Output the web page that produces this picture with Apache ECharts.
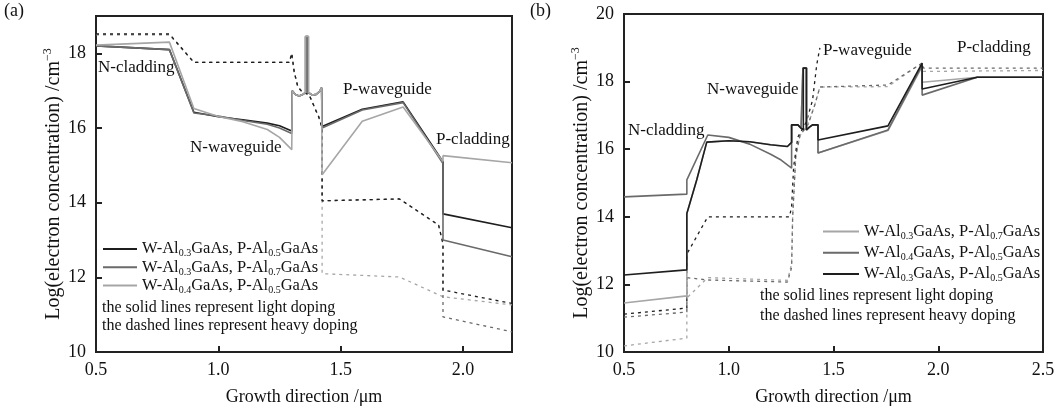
<!DOCTYPE html>
<html><head><meta charset="utf-8">
<script src="https://cdn.jsdelivr.net/npm/echarts@6/dist/echarts.min.js"></script>
<style>html,body{margin:0;padding:0;background:#fff}#c{width:1058px;height:406px}</style>
</head><body><div id="c"></div>
<script>
// ---------- data ----------
const FONT = '"Liberation Serif", "Times New Roman", serif';
const xTicksA = [0.5, 1.0, 1.5, 2.0];
const xTicksB = [0.5, 1.0, 1.5, 2.0, 2.5];
const yTicksA = [10, 12, 14, 16, 18];
const yTicksB = [10, 12, 14, 16, 18, 20];

// Panel (a) solid lines (light doping)
const aSolidBlack = [[0.5,18.2],[0.8,18.1],[0.9,16.42],[1.0,16.3],[1.1,16.22],[1.2,16.13],[1.25,16.06],[1.3,15.92],
  [1.302,15.92],[1.302,17.0],[1.315,16.9],[1.33,16.86],[1.345,16.9],[1.357,16.95],[1.357,18.45],[1.367,18.45],[1.367,16.95],[1.385,16.88],[1.40,16.9],[1.414,16.98],[1.422,17.08],
  [1.424,16.04],[1.588,16.5],[1.755,16.7],[1.918,15.1],[1.918,13.7],[2.2,13.33]];
const aSolidDark = [[0.5,18.2],[0.8,18.1],[0.9,16.4],[1.0,16.32],[1.1,16.2],[1.2,16.1],[1.25,16.0],[1.3,15.85],
  [1.302,15.85],[1.302,17.0],[1.315,16.9],[1.33,16.86],[1.345,16.9],[1.357,16.95],[1.357,18.45],[1.367,18.45],[1.367,16.95],[1.385,16.88],[1.40,16.9],[1.414,16.98],[1.422,17.08],
  [1.424,16.0],[1.588,16.48],[1.755,16.68],[1.918,15.05],[1.918,13.0],[2.2,12.55]];
const aSolidLight = [[0.5,18.22],[0.8,18.3],[0.9,16.52],[1.0,16.31],[1.1,16.17],[1.2,15.96],[1.25,15.75],[1.3,15.42],
  [1.302,15.42],[1.302,17.0],[1.315,16.9],[1.33,16.86],[1.345,16.9],[1.355,16.95],[1.355,18.45],[1.369,18.45],[1.369,16.95],[1.385,16.88],[1.40,16.9],[1.414,16.98],[1.422,17.08],
  [1.424,14.75],[1.588,16.18],[1.755,16.56],[1.918,15.1],[1.918,15.26],[2.2,15.07]];

// Panel (a) dashed lines (heavy doping)
const aDashBlack = [[0.5,18.52],[0.8,18.52],[0.9,17.76],[1.29,17.76],[1.30,18.0],[1.31,17.5],[1.325,17.1],[1.345,16.95],[1.37,16.9],[1.39,16.6],[1.41,16.3],[1.424,16.0],
  [1.424,14.05],[1.74,14.1],[1.9,13.4],[1.918,12.9],[1.918,11.66],[2.2,11.3]];
const aDashDark = [[0.5,18.5],[0.8,18.5],[0.9,17.76],[1.29,17.76],[1.30,18.0],[1.31,17.5],[1.325,17.1],[1.345,16.95],[1.37,16.9],[1.39,16.6],[1.41,16.3],[1.424,16.0],
  [1.424,14.05],[1.74,14.1],[1.9,13.4],[1.918,12.9],[1.918,10.94],[2.2,10.54]];
const aDashLight = [[0.5,18.5],[0.8,18.5],[0.9,17.76],[1.29,17.76],[1.30,18.0],[1.31,17.5],[1.325,17.1],[1.345,16.95],[1.37,16.9],[1.39,16.6],[1.41,16.3],[1.424,16.0],
  [1.424,12.1],[1.45,12.09],[1.74,12.01],[1.918,11.48],[2.2,11.26]];

// Panel (b) solid lines
const bSolidLight = [[0.5,11.45],[0.8,11.66],[0.8,14.1],[0.847,15.09],[0.895,16.21],[1.0,16.25],[1.1,16.22],[1.2,16.13],[1.28,16.08],[1.3,16.2],
  [1.3,16.72],[1.33,16.72],[1.345,16.62],[1.354,16.57],[1.354,18.4],[1.372,18.4],[1.372,16.57],[1.385,16.65],[1.40,16.72],[1.426,16.72],
  [1.426,15.89],[1.76,16.55],[1.923,18.45],[1.923,17.98],[2.186,18.13],[2.5,18.13]];
const bSolidMid = [[0.5,14.59],[0.8,14.67],[0.8,15.09],[0.9,16.42],[1.0,16.35],[1.1,16.15],[1.2,15.85],[1.25,15.68],[1.3,15.44],
  [1.3,16.72],[1.33,16.72],[1.345,16.62],[1.354,16.57],[1.354,18.4],[1.372,18.4],[1.372,16.57],[1.385,16.65],[1.40,16.72],[1.426,16.72],
  [1.426,15.89],[1.76,16.57],[1.923,18.49],[1.923,17.6],[2.186,18.13],[2.5,18.13]];
const bSolidBlack = [[0.5,12.28],[0.8,12.43],[0.8,14.1],[0.847,15.09],[0.895,16.21],[1.0,16.25],[1.1,16.22],[1.2,16.13],[1.28,16.08],[1.3,16.2],
  [1.3,16.72],[1.33,16.72],[1.345,16.62],[1.356,16.57],[1.356,18.4],[1.37,18.4],[1.37,16.57],[1.385,16.65],[1.40,16.72],[1.426,16.72],
  [1.426,16.27],[1.76,16.69],[1.923,18.55],[1.923,17.78],[2.186,18.13],[2.5,18.13]];

// Panel (b) dashed lines
const bDashBlack = [[0.5,11.12],[0.8,11.3],[0.8,12.9],[0.9,14.0],[1.29,14.0],[1.3,14.3],[1.31,15.5],[1.33,16.36],[1.37,16.8],[1.40,17.45],[1.42,18.5],[1.435,19.0]];
const bDashMid = [[0.5,11.03],[0.8,11.18],[0.8,12.2],[0.9,12.13],[1.28,12.07],[1.3,12.5],[1.305,14.0],[1.32,15.8],[1.34,16.4],[1.38,16.75],[1.41,17.3],[1.435,17.84],
  [1.76,17.9],[1.923,18.55],[1.93,18.4],[2.5,18.4]];
const bDashLight = [[0.5,10.18],[0.8,10.41],[0.8,11.6],[0.9,12.2],[1.28,12.12],[1.3,12.6],[1.305,14.0],[1.32,15.8],[1.34,16.4],[1.38,16.75],[1.41,17.3],[1.435,17.84],
  [1.76,17.85],[1.91,18.5],[1.93,18.3],[2.5,18.33]];

// legend entries: [series name, W fraction, P fraction]
const legendA = [['a-black','0.3','0.5'],['a-dark','0.3','0.7'],['a-light','0.4','0.5']];
const legendB = [['b-light','0.3','0.7'],['b-mid','0.4','0.5'],['b-black','0.3','0.5']];
const regionLabelsA = ['N-cladding','N-waveguide','P-waveguide','P-cladding'];
const regionLabelsB = ['N-cladding','N-waveguide','P-waveguide','P-cladding'];
const noteLines = ['the solid lines represent light doping','the dashed lines represent heavy doping'];

// ---------- chart ----------
const C_BLACK = '#1e1e1e', C_DARK = '#6a6a6a', C_LIGHT = '#a6a6a6';
function line(name, data, color, idx, dashed, width){
  return {name, type:'line', data, xAxisIndex:idx, yAxisIndex:idx, symbol:'none', silent:true,
    animation:false, clip:true,
    lineStyle:{color, width: width || (dashed?1.3:1.6), type: dashed ? [3,4] : 'solid'},
    itemStyle:{color}};
}
const legendNames = {};
legendA.concat(legendB).forEach(r => legendNames[r[0]] = r);
function legendFmt(n){
  const r = legendNames[n];
  return '{n|W-Al}{s|' + r[1] + '}{n|GaAs, P-Al}{s|' + r[2] + '}{n|GaAs}';
}
const richLegend = {
  n:{fontFamily:FONT, fontSize:16.5, lineHeight:19.5, color:'#111'},
  s:{fontFamily:FONT, fontSize:10, lineHeight:8, verticalAlign:'bottom', color:'#111'}
};
function xAx(idx, max){
  return {gridIndex:idx, type:'value', min:0.5, max, interval:0.5,
    name:'Growth direction /\u03bcm', nameLocation:'middle', nameGap:36,
    nameTextStyle:{fontFamily:FONT, fontSize:18, color:'#111'},
    axisLine:{show:true, onZero:false, lineStyle:{color:'#222', width:2}},
    axisTick:{show:true, inside:true, length:6, lineStyle:{color:'#222', width:2}},
    axisLabel:{fontFamily:FONT, fontSize:18, color:'#111', margin:9, showMaxLabel: max===2.5,
      formatter:v => v.toFixed(1)},
    splitLine:{show:false}};
}
function yAx(idx, max, gap){
  return {gridIndex:idx, type:'value', min:10, max, interval:2,
    name:'{n|Log(electron concentration) /cm}{u|\u22123}', nameLocation:'middle', nameGap:gap,
    nameTextStyle:{fontFamily:FONT, fontSize:20, color:'#111', rich:{
      n:{fontFamily:FONT, fontSize:20, lineHeight:24, color:'#111'},
      u:{fontFamily:FONT, fontSize:12, lineHeight:13, verticalAlign:'top', color:'#111'}}},
    axisLine:{show:true, onZero:false, lineStyle:{color:'#222', width:2}},
    axisTick:{show:true, inside:true, length:6, lineStyle:{color:'#222', width:2}},
    axisLabel:{fontFamily:FONT, fontSize:18, color:'#111', margin:10, showMaxLabel: max===20,
      formatter:v => String(Math.round(v))},
    splitLine:{show:false}};
}
function txt(s, left, top, size){
  return {type:'text', left, top, silent:true, style:{text:s, font: (size||17) + 'px ' + FONT, fill:'#111'}};
}

const chart = echarts.init(document.getElementById('c'), null, {renderer:'canvas'});
chart.setOption({
  backgroundColor:'#fff',
  animation:false,
  grid:[
    {left:96, top:16, width:416, height:336, outerBoundsMode:'none', containLabel:false, show:true, borderColor:'#222', borderWidth:2, backgroundColor:'transparent'},
    {left:624, top:14, width:419, height:338, outerBoundsMode:'none', containLabel:false, show:true, borderColor:'#222', borderWidth:2, backgroundColor:'transparent'}
  ],
  xAxis:[xAx(0, 2.2), xAx(1, 2.5)],
  yAxis:[yAx(0, 19, 25), yAx(1, 20, 28)],
  legend:[
    {data:legendA.map(r=>r[0]), left:103, top:240.5, padding:0, orient:'vertical', icon:'rect', itemWidth:34, itemHeight:1.8, itemGap:0,
      formatter:legendFmt, textStyle:{rich:richLegend}, selectedMode:false},
    {data:legendB.map(r=>r[0]), left:823, top:223, padding:0, orient:'vertical', icon:'rect', itemWidth:36, itemHeight:1.8, itemGap:3,
      formatter:legendFmt, textStyle:{rich:richLegend}, selectedMode:false}
  ],
  series:[
    line('a-dash-light', aDashLight, C_LIGHT, 0, true),
    line('a-dash-dark', aDashDark, C_DARK, 0, true),
    line('a-dash-black', aDashBlack, C_BLACK, 0, true),
    line('a-black', aSolidBlack, C_BLACK, 0, false),
    line('a-dark', aSolidDark, C_DARK, 0, false),
    line('a-light', aSolidLight, C_LIGHT, 0, false),
    line('b-dash-light', bDashLight, C_LIGHT, 1, true),
    line('b-dash-mid', bDashMid, C_DARK, 1, true),
    line('b-dash-black', bDashBlack, C_BLACK, 1, true),
    line('b-light', bSolidLight, C_LIGHT, 1, false),
    line('b-mid', bSolidMid, C_DARK, 1, false),
    line('b-black', bSolidBlack, C_BLACK, 1, false)
  ],
  graphic:[
    txt('(a)', 4, 2, 18), txt('(b)', 530, 2, 18),
    txt(regionLabelsA[0], 98, 59), txt(regionLabelsA[1], 190, 139), txt(regionLabelsA[2], 343, 81), txt(regionLabelsA[3], 436, 131),
    txt(regionLabelsB[0], 628, 122), txt(regionLabelsB[1], 707, 81), txt(regionLabelsB[2], 823, 42), txt(regionLabelsB[3], 957, 39),
    txt(noteLines[0], 102, 300, 16), txt(noteLines[1], 102, 318, 16),
    txt(noteLines[0], 760, 288, 16), txt(noteLines[1], 760, 308, 16)
  ]
});
</script></body></html>
